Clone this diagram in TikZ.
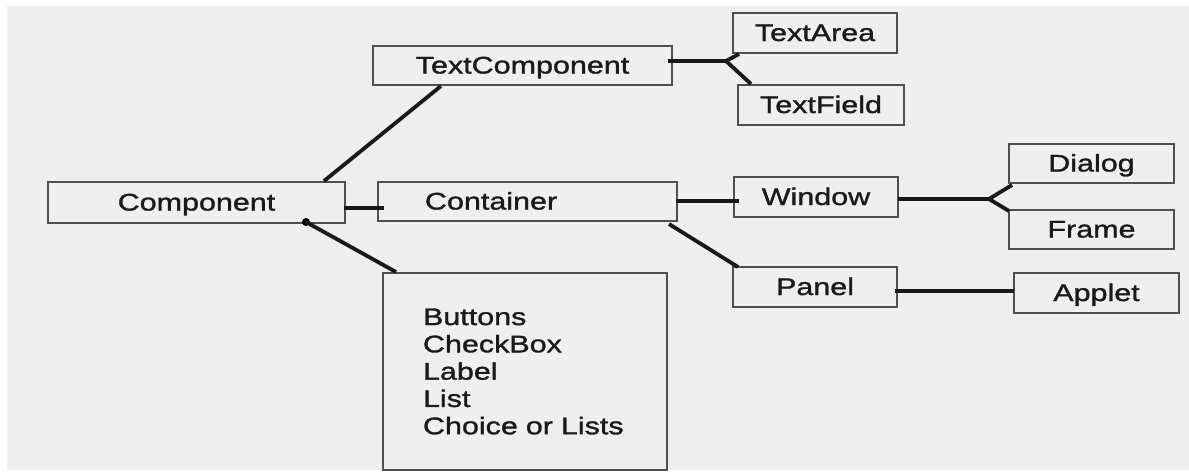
\documentclass[tikz,border=0pt]{standalone}
\usepackage{fontspec}
\setmainfont{Liberation Sans}[FakeStretch=1.27,FakeBold=1.3]
\usetikzlibrary{calc}
\definecolor{bgc}{HTML}{EFEFEF}
\definecolor{bdc}{HTML}{505050}
\definecolor{txc}{HTML}{1A1A1A}
\tikzset{
  box/.style={draw=bdc, line width=2pt, fill=bgc, inner sep=0pt, text=txc,
    font=\fontsize{24}{27.3}\selectfont},
  onerow/.style={box, text height=16pt, text depth=-1.5pt},
  conn/.style={line width=3.8pt, draw=black!90},
}
\begin{document}
\begin{tikzpicture}[x=1pt,y=-1pt]
\useasboundingbox (0,0) rectangle (1189,472);
\fill[white] (0,0) rectangle (1189,472);
\fill[bgc] (7,6) rectangle (1189,470);

% boxes
\node[onerow, minimum width=297pt, minimum height=41pt] (component) at (196.5,202.5) {Component};
\node[onerow, minimum width=299pt, minimum height=39pt] (textcomp) at (522.5,65.5) {TextComponent};
\node[onerow, minimum width=164pt, minimum height=40pt] (textarea) at (815,33) {TextArea};
\node[onerow, minimum width=166pt, minimum height=40pt] (textfield) at (821,105) {TextField};
\node[onerow, minimum height=39pt, inner xsep=47pt, text width=205pt, align=left] (container) at (527.5,201.5) {Container};
\node[onerow, minimum width=164pt, minimum height=40pt] (window) at (816,197) {Window};
\node[onerow, minimum width=165pt, minimum height=39pt] (dialog) at (1091.5,163.5) {Dialog};
\node[onerow, minimum width=165pt, minimum height=39pt] (frame) at (1091.5,229.5) {Frame};
\node[onerow, minimum width=164pt, minimum height=40pt] (panel) at (815,287) {Panel};
\node[onerow, minimum width=165pt, minimum height=40pt] (applet) at (1096.5,293) {Applet};
\node[box, minimum height=197pt, inner xsep=40pt, text width=204pt, align=left] (listbox) at (525,371.5)
  {Buttons\\CheckBox\\Label\\List\\Choice or Lists};

% connectors
\draw[conn] ($(component.north west)+(277,0)$) -- ($(textcomp.south west)+(69,0)$);
\draw[conn] ($(component.east)+(-2,5.5)$) -- ($(container.west)+(7,6.5)$);
\coordinate (cdot) at ($(component.south west)+(259,-2)$);
\fill (cdot) circle (4pt);
\draw[conn] (cdot) -- ($(listbox.north west)+(14,0)$);

\coordinate (tb) at ($(textcomp.east)+(53,-4.5)$);
\draw[conn] ($(textcomp.east)+(-5,-4.5)$) -- (tb);
\draw[conn] (tb) -- ($(textarea.south west)+(7,0)$);
\draw[conn] (tb) -- ($(textfield.north west)+(14,0)$);

\draw[conn] ($(container.east)+(-2,-0.5)$) -- ($(window.west)+(6,4)$);
\draw[conn] ($(container.south east)+(-9,2)$) -- ($(panel.north west)+(6,1)$);

\coordinate (wb) at ($(window.east)+(90,2)$);
\draw[conn] ($(window.east)+(-1,2)$) -- (wb);
\draw[conn] (wb) -- ($(dialog.south west)+(4,1)$);
\draw[conn] (wb) -- ($(frame.north west)+(1,2)$);

\draw[conn] ($(panel.east)+(-3,4)$) -- ($(applet.west)+(1,-2)$);
\end{tikzpicture}
\end{document}
